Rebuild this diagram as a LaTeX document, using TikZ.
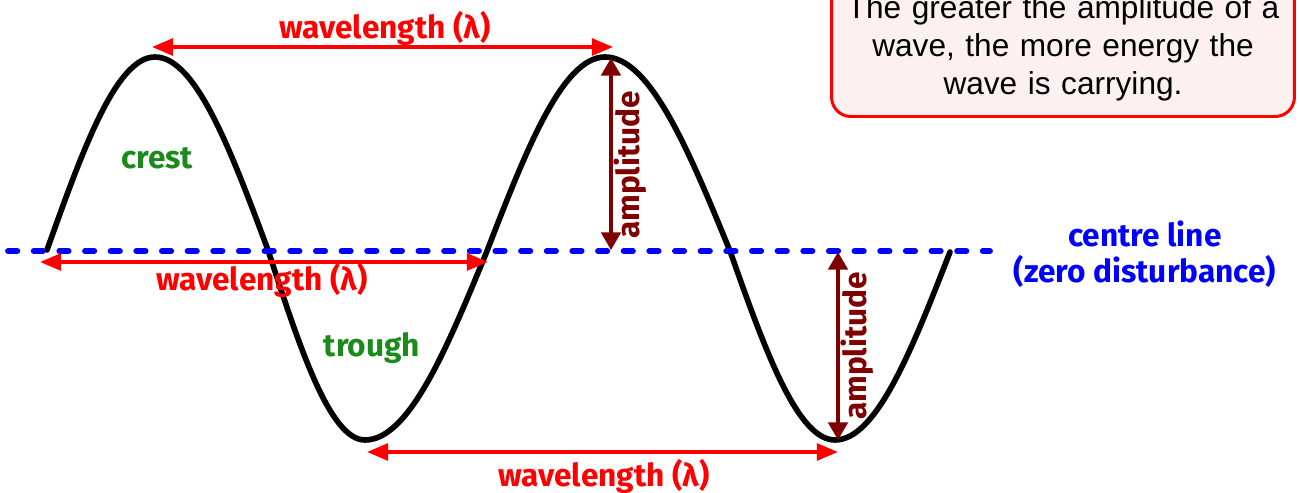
\documentclass[tikz,border=0pt]{standalone}
\usepackage{fontspec}
\setmainfont{Liberation Sans}
\newfontfamily\labelfont{Fira Sans}
\usepackage{tikz}
\usetikzlibrary{arrows.meta}
\definecolor{WaveRed}{HTML}{FF0000}
\definecolor{AmpRed}{HTML}{7F0000}
\definecolor{LineBlue}{HTML}{0000FF}
\definecolor{TagGreen}{HTML}{1A8A1A}
\definecolor{NotePink}{HTML}{FDF0F0}

\begin{document}
\begin{tikzpicture}[x={(0.02cm,0)}, y={(0,-0.02cm)},
    lambdaarrow/.style={{Triangle[length=12pt,width=9.5pt]}-{Triangle[length=12pt,width=9.5pt]}, line width=2.1pt, color=WaveRed},
    amparrow/.style={{Triangle[length=10pt,width=11pt]}-{Triangle[length=10pt,width=11pt]}, line width=2.1pt, color=AmpRed},
    tag/.style={font=\labelfont\bfseries\fontsize{18}{21}\selectfont, inner sep=0pt}]
    \useasboundingbox (0,0) rectangle (1299,493);
    % note box in the corner
    \node[draw=WaveRed, line width=1.7pt, fill=NotePink, rounded corners=11pt, text width=8.7cm, align=center,
      inner xsep=0.28cm, inner ysep=9pt, anchor=south,
      font=\fontsize{18}{21.6}\selectfont] (note) at (1063,118) {
      The greater the amplitude of a\\wave, the more energy the\\wave is carrying.
    };
    % the wave and its centre line
    \draw[line width=3.2pt, line cap=round] (47,250) sin (155,57) cos (268,250) sin (365,440)
      cos (487,251) sin (605,57) cos (730,251) sin (835,440) cos (950,252);
    \draw[LineBlue, line width=3.3pt, line cap=round, dash pattern=on 5.3pt off 9.3pt] (8,251) -- (990,251);
    % arrow ends
    \coordinate (topL) at (152,47);
    \coordinate (topR) at (613,47);
    \coordinate (midL) at (40,262);
    \coordinate (midR) at (488,262);
    \coordinate (botL) at (367,452);
    \coordinate (botR) at (838,452);
    \coordinate (crestB) at (611,58);
    \coordinate (zeroB) at (611,250);
    \coordinate (zeroD) at (838,252);
    \coordinate (troughD) at (838,440);
    \draw[lambdaarrow] (topL) -- (topR);
    \draw[lambdaarrow] (midL) -- (midR);
    \draw[lambdaarrow] (botL) -- (botR);
    \draw[amparrow] (crestB) -- (zeroB);
    \draw[amparrow] (zeroD) -- (troughD);
    % labels
    \node[tag, WaveRed] (lamTop) at (385,28) {wavelength (λ)};
    \node[tag, WaveRed] (lamMid) at (262,280) {wavelength (λ)};
    \node[tag, WaveRed] (lamBot) at (604,476) {wavelength (λ)};
    \node[tag, AmpRed, rotate=90] (ampB) at (630,165) {amplitude};
    \node[tag, AmpRed, rotate=90] (ampD) at (857,346) {amplitude};
    \node[tag, TagGreen] (crest) at (157,158) {crest};
    \node[tag, TagGreen] (trough) at (372,348) {trough};
    \node[tag, LineBlue, align=center, font=\labelfont\bfseries\fontsize{18}{20.5}\selectfont] (centre) at (1145,254) {centre line\\(zero disturbance)};
\end{tikzpicture}
\end{document}
